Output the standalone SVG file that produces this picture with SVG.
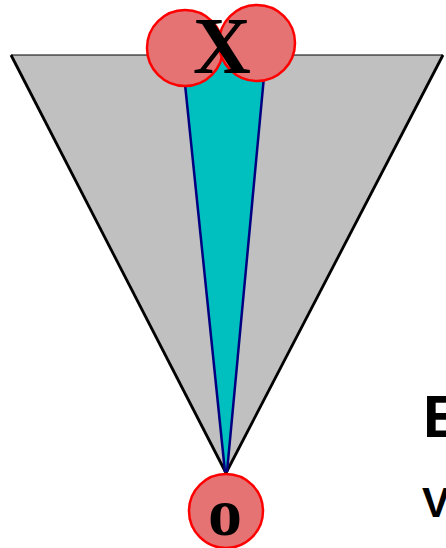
<svg xmlns="http://www.w3.org/2000/svg" width="446" height="548" viewBox="0 0 446 548">
<style>
.node circle{fill:#e57373;stroke:#ff0000;stroke-width:2.5}
.lbl{font-family:"Liberation Serif",serif;font-weight:bold;fill:#000;text-anchor:middle}
.side{font-family:"Liberation Sans",Arial,sans-serif;fill:#000;font-weight:bold}
.edge{stroke:#000080;stroke-width:2.5;fill:none}
</style>
<rect width="446" height="548" fill="#fff"/>
<g id="cone">
<polygon points="11,55 443,55 226,473" fill="#c0c0c0" stroke="none"/>
<line x1="11" y1="55" x2="443" y2="55" stroke="#000" stroke-width="1.2"/>
<line x1="11" y1="55" x2="226" y2="473" stroke="#000" stroke-width="2.8"/>
<line x1="443" y1="55" x2="226" y2="473" stroke="#000" stroke-width="2.8"/>
</g>
<g id="connectors">
<polygon points="182,55 266,55 227,472 225,472" fill="#00bfbf" stroke="none"/>
<line class="edge" x1="182" y1="55" x2="225" y2="472"/>
<line class="edge" x1="266" y1="55" x2="227" y2="472"/>
</g>
<g id="nodeX" class="node">
<circle cx="185" cy="48" r="38"/>
<circle cx="257" cy="43" r="38"/>
<text class="lbl" x="222" y="73" font-size="80">X</text>
</g>
<g id="nodeO" class="node">
<circle cx="226" cy="511" r="37"/>
<text class="lbl" x="225" y="535" font-size="68">o</text>
</g>
<text class="side" x="423" y="437" font-size="60">E</text>
<text class="side" x="422" y="517" font-size="42">V</text>
</svg>
